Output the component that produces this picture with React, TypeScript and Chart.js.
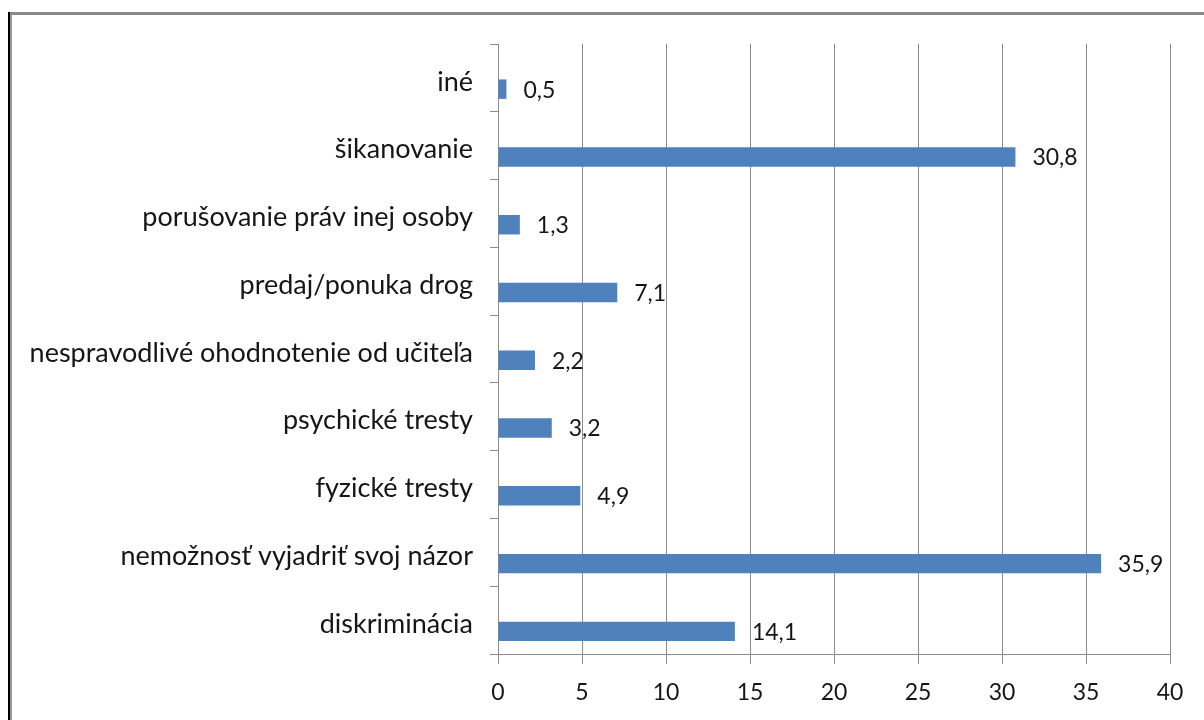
import React, { useEffect, useRef } from "react";
import { Chart, registerables } from "chart.js";

Chart.register(...registerables);

const categories: string[] = [
  "iné",
  "šikanovanie",
  "porušovanie práv inej osoby",
  "predaj/ponuka drog",
  "nespravodlivé ohodnotenie od učiteľa",
  "psychické tresty",
  "fyzické tresty",
  "nemožnosť vyjadriť svoj názor",
  "diskriminácia",
];

const values: number[] = [0.5, 30.8, 1.3, 7.1, 2.2, 3.2, 4.9, 35.9, 14.1];

// empty companion series (keeps the upper slot of each category band free, as in the original)
const emptySeries: (number | null)[] = categories.map(() => null);

const xMin = 0;
const xMax = 40;
const xStep = 5;

const FONT = "Lato";
const TEXT = "#161616";
const GRID = "#8c8c8c";
const BAR = "#4F81BD";

const valueLabels = {
  id: "valueLabels",
  afterDatasetsDraw(chart: any) {
    const ctx = chart.ctx;
    const meta = chart.getDatasetMeta(1);
    ctx.save();
    ctx.font = `23px ${FONT}`;
    ctx.fillStyle = TEXT;
    ctx.textAlign = "left";
    ctx.textBaseline = "middle";
    meta.data.forEach((bar: any, i: number) => {
      const v = values[i];
      ctx.fillText(v.toFixed(1).replace(".", ","), bar.x + 17, bar.y + 1);
    });
    ctx.restore();
  },
};

export default function App() {
  const ref = useRef<HTMLCanvasElement | null>(null);

  useEffect(() => {
    if (!ref.current) return;
    const chart = new Chart(ref.current, {
      type: "bar",
      data: {
        labels: categories,
        datasets: [
          { data: emptySeries, backgroundColor: BAR },
          { data: values, backgroundColor: BAR },
        ],
      },
      options: {
        indexAxis: "y",
        responsive: false,
        animation: false,
        categoryPercentage: 0.665,
        barPercentage: 0.863,
        layout: { padding: { left: 0, top: 44, right: 34, bottom: 0 } },
        plugins: {
          legend: { display: false },
          tooltip: { enabled: false },
          title: { display: false },
        },
        scales: {
          x: {
            min: xMin,
            max: xMax,
            afterFit: (s: any) => {
              s.height = 66;
            },
            ticks: {
              stepSize: xStep,
              color: TEXT,
              font: { family: FONT, size: 23 },
              padding: 15,
            },
            grid: {
              color: GRID,
              lineWidth: 1,
              drawTicks: true,
              tickLength: 10,
            },
            border: { color: GRID, width: 1 },
          },
          y: {
            afterFit: (s: any) => {
              s.width = 498;
            },
            ticks: {
              color: TEXT,
              font: { family: FONT, size: 27 },
              padding: 17,
              labelOffset: 4,
              autoSkip: false,
            },
            grid: {
              color: GRID,
              drawOnChartArea: false,
              drawTicks: true,
              tickLength: 8,
              offset: true,
            },
            border: { color: GRID, width: 1 },
          },
        },
      },
      plugins: [valueLabels],
    });
    return () => chart.destroy();
  }, []);

  return (
    <div style={{ position: "fixed", left: 0, top: 0, width: 1204, height: 720, background: "#fff" }}>
      <canvas ref={ref} width={1204} height={720} style={{ position: "absolute", left: 0, top: 0 }} />
      <div style={{ position: "absolute", left: 8, top: 12, width: 2, height: 708, background: "#000" }} />
      <div style={{ position: "absolute", left: 10, top: 12, width: 2, height: 708, background: "#9a9a9a" }} />
      <div style={{ position: "absolute", left: 10, top: 12, width: 1194, height: 3, background: "#8a8a8a" }} />
    </div>
  );
}
